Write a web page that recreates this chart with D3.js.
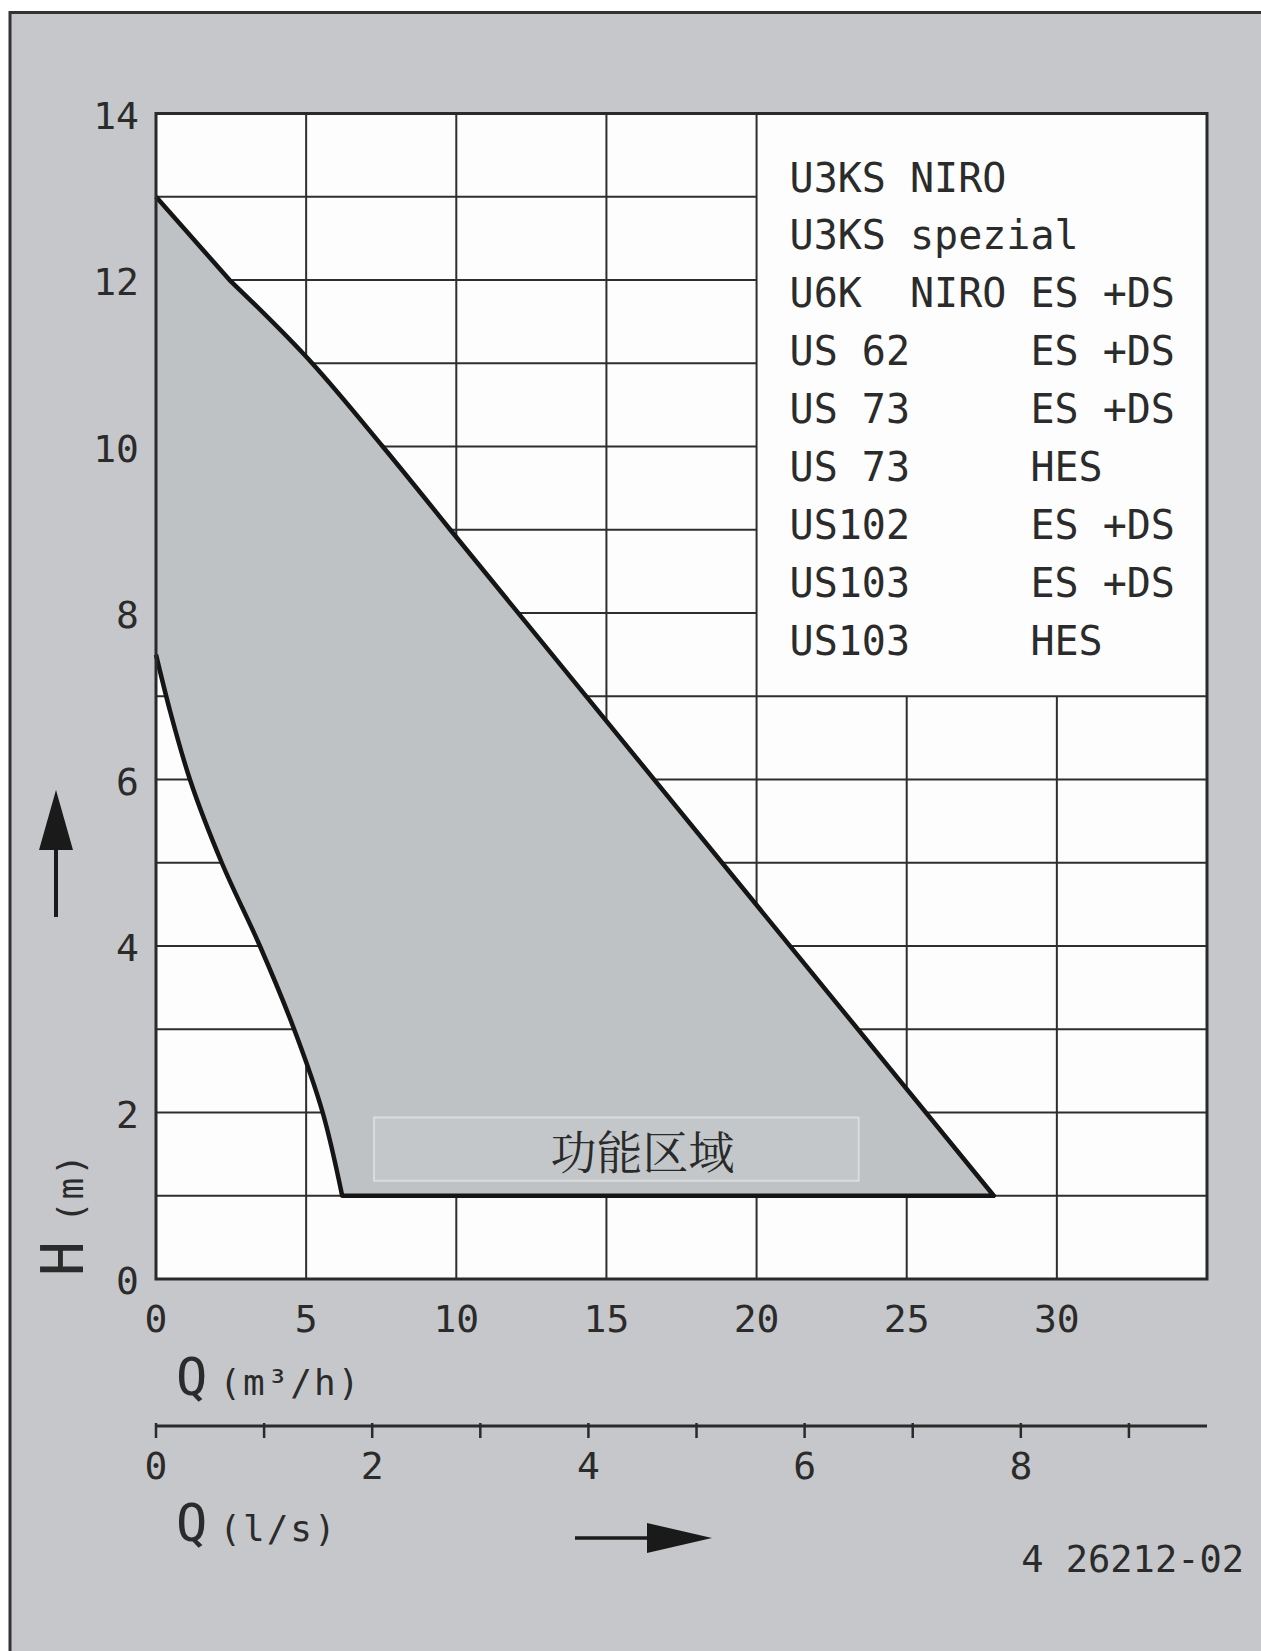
<!DOCTYPE html>
<html>
<head>
<meta charset="utf-8">
<script src="https://cdn.jsdelivr.net/npm/d3@7"></script>
<style>
	html, body { margin: 0; padding: 0; background: #ffffff; }
	svg text { font-family: "DejaVu Sans Mono", "Liberation Mono", monospace; fill: #2b2b2b; }
	.cjk { font-family: "Noto Serif CJK SC", "Noto Sans CJK SC", sans-serif; }
</style>
</head>
<body>
<svg id="chart" width="1261" height="1651"></svg>
<script>
var WIDTH = 1261, HEIGHT = 1651;

// Q (m3/h) / H (m) values
var qTicks = [0, 5, 10, 15, 20, 25, 30];
var hTicks = [0, 2, 4, 6, 8, 10, 12, 14];
var lsTicks = [0, 1, 2, 3, 4, 5, 6, 7, 8, 9];
var lsLabels = [0, 2, 4, 6, 8];

var upperStart = [[0, 13], [2.45, 12]];
var upperBend = [[2.45, 12], [5.2, 11], [7.55, 10], [9.8, 9]];
var upperStraight = [[9.8, 9], [27.9, 1]];
var lowerEdge = [[27.9, 1], [6.2, 1]];
var leftEdge = [[6.2, 1], [5.55, 2], [4.6, 3], [3.46, 4], [2.19, 5], [1.13, 6], [0.47, 6.82], [0, 7.5]];

var legendRows = [
	"U3KS NIRO",
	"U3KS spezial",
	"U6K  NIRO ES +DS",
	"US 62     ES +DS",
	"US 73     ES +DS",
	"US 73     HES",
	"US102     ES +DS",
	"US103     ES +DS",
	"US103     HES"
];

var areaLabel = "功能区域";
var areaLabelBox = {q0: 7.26, q1: 23.4, h0: 1.18, h1: 1.94};
var drawingNo = "4 26212-02";

var M3H_PER_LS = 3.6;

var x = d3.scaleLinear().domain([0, 35]).range([156, 1207]);
var y = d3.scaleLinear().domain([0, 14]).range([1279, 113.5]);
var xls = d3.scaleLinear().domain([0, 35 / M3H_PER_LS]).range([156, 1207]);

var svg = d3.select("#chart");

// paper + frame
svg.append("rect").attr("width", WIDTH).attr("height", HEIGHT).attr("fill", "#ffffff");
svg.append("rect").attr("x", 10).attr("y", 12).attr("width", WIDTH - 10).attr("height", HEIGHT - 12).attr("fill", "#c5c7ca");
svg.append("path")
	.attr("d", "M10," + HEIGHT + "V12.5H" + WIDTH)
	.attr("fill", "none").attr("stroke", "#333").attr("stroke-width", 3);

// plot area
svg.append("rect")
	.attr("x", x(0)).attr("y", y(14))
	.attr("width", x(35) - x(0)).attr("height", y(0) - y(14))
	.attr("fill", "#fdfdfd");

var grid = svg.append("g").attr("stroke", "#2e2e2e").attr("stroke-width", 2);

// vertical lines: right of 20 only below the legend block
d3.range(5, 35, 5).forEach(function(q) {
	grid.append("line")
		.attr("x1", x(q)).attr("x2", x(q))
		.attr("y1", y(0)).attr("y2", q > 20 ? y(7) : y(14));
});
d3.range(1, 14).forEach(function(h) {
	grid.append("line")
		.attr("x1", x(0)).attr("x2", h > 7 ? x(20) : x(35))
		.attr("y1", y(h)).attr("y2", y(h));
});

// working area
var lineLin = d3.line().x(function(d) { return x(d[0]); }).y(function(d) { return y(d[1]); });
var lineBend = d3.line().curve(d3.curveMonotoneX).x(function(d) { return x(d[0]); }).y(function(d) { return y(d[1]); });
var lineCurve = d3.line().curve(d3.curveMonotoneY).x(function(d) { return x(d[0]); }).y(function(d) { return y(d[1]); });

function cont(p) { return p.replace(/^M/, "L"); }

var areaPath = lineLin(upperStart)
	+ cont(lineBend(upperBend))
	+ cont(lineLin(upperStraight))
	+ cont(lineLin(lowerEdge))
	+ cont(lineCurve(leftEdge));

svg.append("path")
	.attr("d", areaPath)
	.attr("fill", "#bfc2c5")
	.attr("stroke", "#151515")
	.attr("stroke-width", 4.5)
	.attr("stroke-linejoin", "round");

// plot border
svg.append("rect")
	.attr("x", x(0)).attr("y", y(14))
	.attr("width", x(35) - x(0)).attr("height", y(0) - y(14))
	.attr("fill", "none").attr("stroke", "#2a2a2a").attr("stroke-width", 3);

// label box
svg.append("rect")
	.attr("x", x(areaLabelBox.q0)).attr("y", y(areaLabelBox.h1))
	.attr("width", x(areaLabelBox.q1) - x(areaLabelBox.q0))
	.attr("height", y(areaLabelBox.h0) - y(areaLabelBox.h1))
	.attr("fill", "#c3c7ca").attr("stroke", "#d9dbdd").attr("stroke-width", 2);

svg.append("text")
	.attr("class", "cjk")
	.attr("x", x(16.2)).attr("y", y(1.56))
	.attr("text-anchor", "middle").attr("dominant-baseline", "central")
	.attr("font-size", 46)
	.style("fill", "#2a2a2a")
	.text(areaLabel);

// legend block
svg.append("g")
	.selectAll("text")
	.data(legendRows)
	.enter().append("text")
	.attr("x", x(20) + 33)
	.attr("y", function(d, i) { return y(14) + 78 + i * 57.9; })
	.attr("font-size", 40)
	.attr("xml:space", "preserve")
	.style("white-space", "pre")
	.text(function(d) { return d; });

// H ticks
svg.append("g")
	.selectAll("text")
	.data(hTicks)
	.enter().append("text")
	.attr("x", 139)
	.attr("y", function(d) { return y(d) + 2; })
	.attr("text-anchor", "end").attr("dominant-baseline", "central")
	.attr("font-size", 38)
	.text(function(d) { return d; });

// Q m3/h ticks
svg.append("g")
	.selectAll("text")
	.data(qTicks)
	.enter().append("text")
	.attr("x", function(d) { return x(d); })
	.attr("y", 1332)
	.attr("text-anchor", "middle")
	.attr("font-size", 38)
	.text(function(d) { return d; });

// second axis in l/s
var lsAxis = svg.append("g");
lsAxis.append("line")
	.attr("x1", xls(0)).attr("x2", x(35))
	.attr("y1", 1426).attr("y2", 1426)
	.attr("stroke", "#2a2a2a").attr("stroke-width", 3);
lsAxis.selectAll("line.tick")
	.data(lsTicks)
	.enter().append("line")
	.attr("class", "tick")
	.attr("x1", function(d) { return xls(d); }).attr("x2", function(d) { return xls(d); })
	.attr("y1", 1423).attr("y2", 1438)
	.attr("stroke", "#2a2a2a").attr("stroke-width", 2.5);
lsAxis.selectAll("text")
	.data(lsLabels)
	.enter().append("text")
	.attr("x", function(d) { return xls(d); })
	.attr("y", 1479)
	.attr("text-anchor", "middle")
	.attr("font-size", 38)
	.text(function(d) { return d; });

// axis titles
function axisTitle(tx, ty, unit) {
	var t = svg.append("text").attr("x", tx).attr("y", ty);
	t.append("tspan").attr("font-size", 52).text("Q");
	t.append("tspan").attr("font-size", 36).attr("dx", 12).attr("letter-spacing", 2).text(unit);
}
axisTitle(176, 1395, "(m³/h)");
axisTitle(176, 1541, "(l/s)");

var hTitle = svg.append("text").attr("transform", "translate(83,1276) rotate(-90)");
hTitle.append("tspan").attr("font-size", 58).text("H");
hTitle.append("tspan").attr("font-size", 36).attr("dx", 18).attr("letter-spacing", 2).text("(m)");

// direction arrows
svg.append("line").attr("x1", 56).attr("x2", 56).attr("y1", 917).attr("y2", 845)
	.attr("stroke", "#1a1a1a").attr("stroke-width", 4);
svg.append("path").attr("d", "M56,790L39,850L73,850Z").attr("fill", "#1a1a1a");

svg.append("line").attr("x1", 575).attr("x2", 660).attr("y1", 1538).attr("y2", 1538)
	.attr("stroke", "#1a1a1a").attr("stroke-width", 3.5);
svg.append("path").attr("d", "M712,1538L647,1523L647,1553Z").attr("fill", "#1a1a1a");

// drawing number
svg.append("text")
	.attr("x", 1244).attr("y", 1572)
	.attr("text-anchor", "end")
	.attr("font-size", 37)
	.text(drawingNo);
</script>
</body>
</html>
